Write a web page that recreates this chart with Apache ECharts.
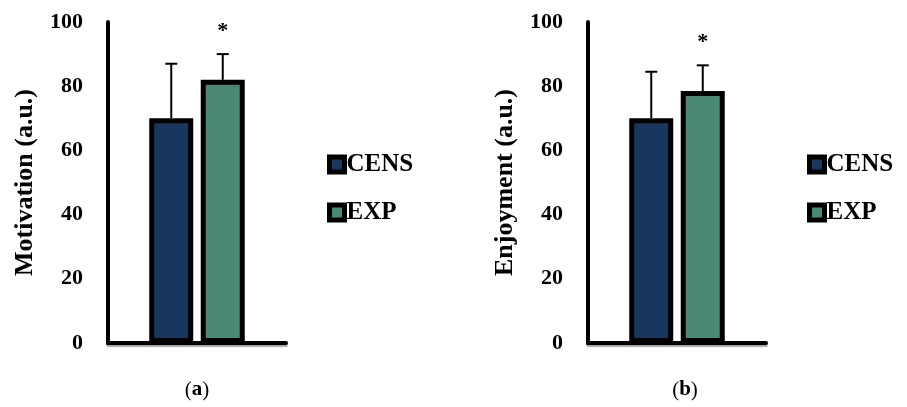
<!DOCTYPE html>
<html>
<head>
<meta charset="utf-8">
<script src="https://cdn.jsdelivr.net/npm/echarts@6/dist/echarts.min.js"></script>
<style>html,body{margin:0;padding:0;background:#fff;}#c{width:907px;height:407px;}</style>
</head>
<body>
<div id="c"></div>
<script>
// ---- data ----
const groups = ['CENS', 'EXP'];
const motivationMean = [70, 82];
const motivationSD = [17, 8];
const motivationSig = [0, 1];
const enjoymentMean = [70, 78.5];
const enjoymentSD = [14.5, 8];
const enjoymentSig = [0, 1];
const yTicks = [0, 20, 40, 60, 80, 100];
const yTitles = ['Motivation (a.u.)', 'Enjoyment (a.u.)'];
const captions = ['a', 'b'];

const colors = ['#17375E', '#4A8A74'];
const FONT = '"Liberation Serif", "Times New Roman", serif';
const BAR_W = 44, BAR_GAP = 7.5;

const chart = echarts.init(document.getElementById('c'));

function grid(left) { return { left: left, top: 22, width: 178, height: 321 }; }

function xAxis(i) {
  return {
    type: 'category', gridIndex: i, data: [''],
    axisLine: { lineStyle: { color: '#000', width: 4, shadowColor: 'rgba(0,0,0,0.35)', shadowOffsetY: 2, shadowBlur: 1 } },
    axisTick: { show: false }, axisLabel: { show: false }
  };
}
function yAxis(i) {
  return {
    type: 'value', gridIndex: i, min: yTicks[0], max: yTicks[yTicks.length - 1], interval: 20,
    name: yTitles[i], nameLocation: 'middle', nameGap: 70, nameRotate: 90,
    nameTextStyle: { fontFamily: FONT, fontWeight: 'bold', fontSize: 26, color: '#000' },
    axisLine: { show: true, lineStyle: { color: '#000', width: 4 } },
    axisTick: { show: false }, splitLine: { show: false },
    axisLabel: { fontFamily: FONT, fontWeight: 'bold', fontSize: 22, color: '#000', margin: 25 }
  };
}

function barSeries(name, idx, gi, val) {
  return {
    type: 'bar', name: name, xAxisIndex: gi, yAxisIndex: gi,
    data: [val], barWidth: BAR_W, barGap: (BAR_GAP / BAR_W * 100) + '%',
    itemStyle: { color: colors[idx], borderColor: '#000', borderWidth: 5 },
    z: 3
  };
}

function errSeries(gi, means, sds, sigs) {
  const data = means.map((m, k) => [0, m, sds[k], k, sigs[k]]);
  return {
    type: 'custom', xAxisIndex: gi, yAxisIndex: gi, z: 2,
    data: data,
    renderItem: function (params, api) {
      const k = api.value(3);
      const off = (k - 0.5) * (BAR_W + BAR_GAP);
      const p0 = api.coord([api.value(0), api.value(1)]);
      const p1 = api.coord([api.value(0), api.value(1) + api.value(2)]);
      const x = p0[0] + off;
      const children = [
        { type: 'line', shape: { x1: x, y1: p0[1], x2: x, y2: p1[1] }, style: { stroke: '#000', lineWidth: 2 } },
        { type: 'line', shape: { x1: x - 6, y1: p1[1], x2: x + 6, y2: p1[1] }, style: { stroke: '#000', lineWidth: 2 } }
      ];
      if (api.value(4)) {
        children.push({ type: 'text', x: x, y: p1[1] - 23, style: { text: '*', fontFamily: FONT, fontWeight: 'bold', fontSize: 22, fill: '#000', align: 'center', verticalAlign: 'middle' } });
      }
      return { type: 'group', children: children };
    }
  };
}

function legend(left) {
  return {
    orient: 'vertical', left: left, top: 147, itemWidth: 15, itemHeight: 15, itemGap: 23,
    icon: 'rect',
    data: groups,
    itemStyle: { borderColor: '#000', borderWidth: 5 },
    textStyle: { fontFamily: FONT, fontWeight: 'bold', fontSize: 25, lineHeight: 21, color: '#000', padding: [0, 0, 0, -3] }
  };
}

chart.setOption({
  animation: false,
  backgroundColor: '#fff',
  grid: [grid(108), grid(588)],
  xAxis: [xAxis(0), xAxis(1)],
  yAxis: [yAxis(0), yAxis(1)],
  legend: [legend(322), legend(802)],
  series: [
    barSeries(groups[0], 0, 0, motivationMean[0]),
    barSeries(groups[1], 1, 0, motivationMean[1]),
    errSeries(0, motivationMean, motivationSD, motivationSig),
    barSeries(groups[0], 0, 1, enjoymentMean[0]),
    barSeries(groups[1], 1, 1, enjoymentMean[1]),
    errSeries(1, enjoymentMean, enjoymentSD, enjoymentSig)
  ],
  graphic: captions.map((c, i) => ({
    type: 'text', x: [197, 685][i], y: 390,
    style: {
      text: '(' + '{b|' + c + '})', fontFamily: FONT, fontSize: 21, fill: '#000',
      align: 'center', verticalAlign: 'middle',
      rich: { b: { fontFamily: FONT, fontSize: 21, fontWeight: 'bold', fill: '#000' } }
    }
  }))
});
</script>
</body>
</html>
